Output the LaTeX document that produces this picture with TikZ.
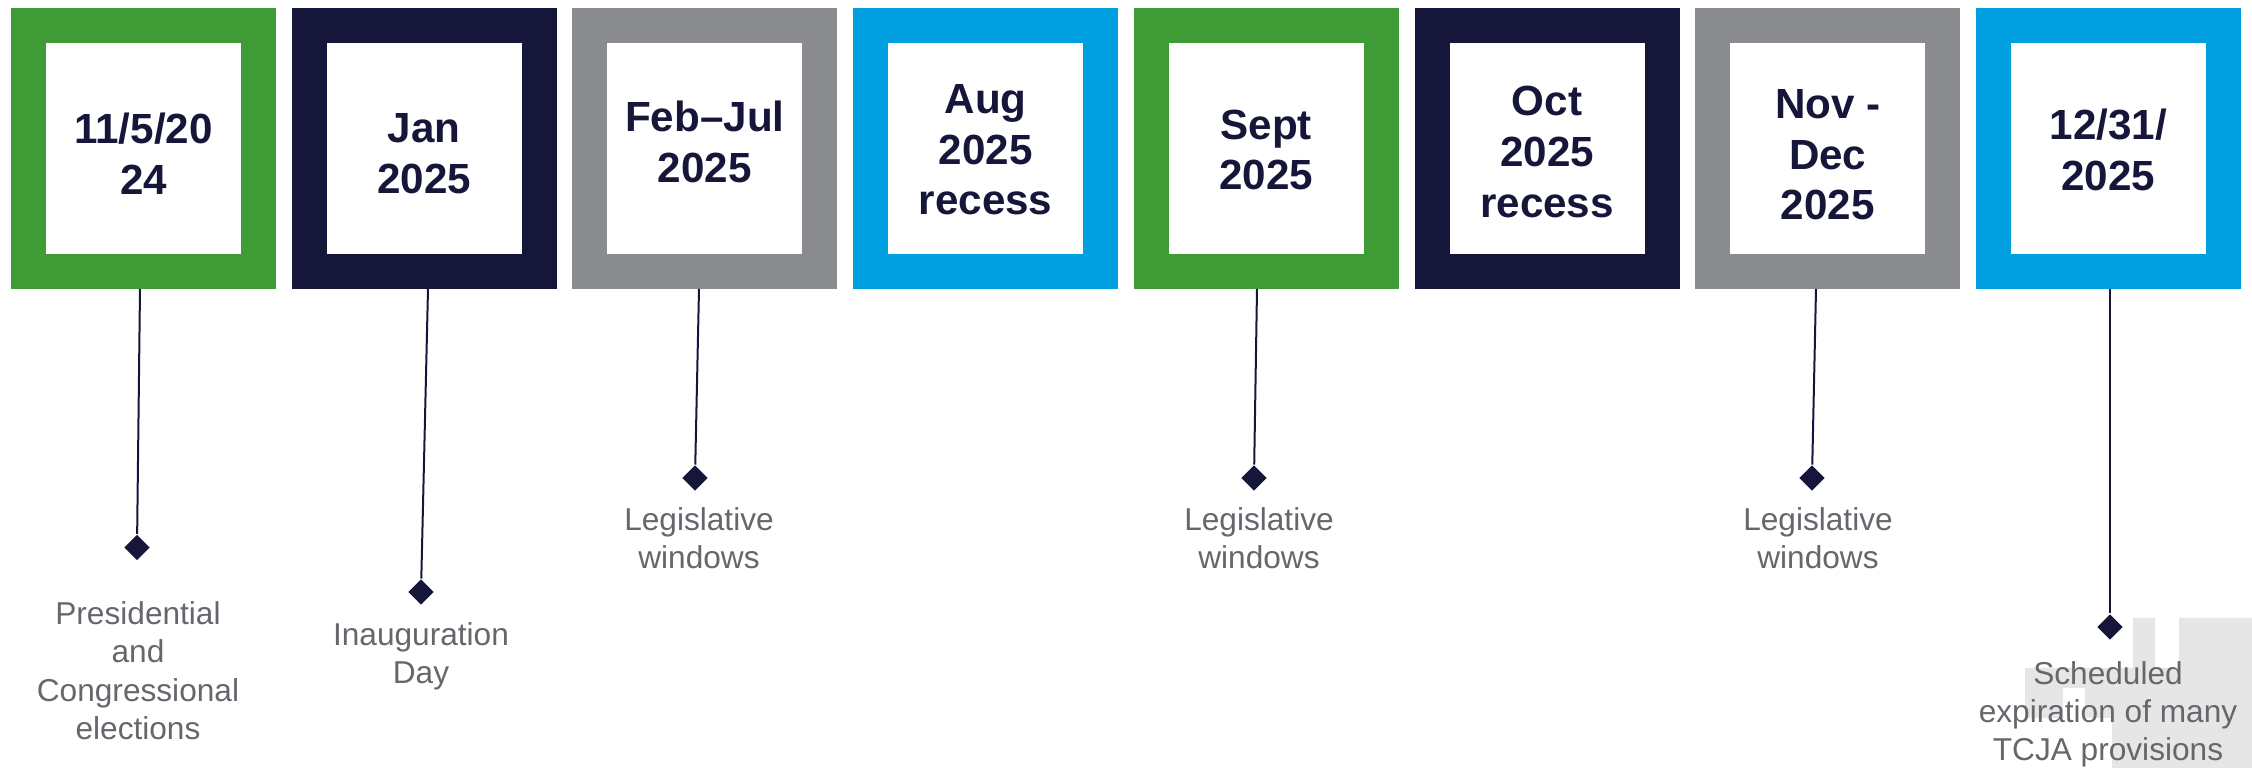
\documentclass[tikz,border=0pt]{standalone}
\usepackage{fontspec}
\setmainfont{Liberation Sans}
\usetikzlibrary{shapes.geometric}
\definecolor{tlgreen}{HTML}{3F9B35}
\definecolor{tlnavy}{HTML}{16163A}
\definecolor{tlgray}{HTML}{898B8E}
\definecolor{tlblue}{HTML}{009FDF}
\definecolor{notegray}{HTML}{64676B}
\definecolor{bggray}{HTML}{E6E6E6}
\begin{document}
\begin{tikzpicture}[x=0.1mm,y=-0.1mm,
  datebox/.style={draw=#1, line width=3.5mm, fill=white, minimum width=23mm,
    minimum height=24.55mm, inner sep=0pt},
  datetext/.style={text=tlnavy, font=\fontsize{12}{14.4}\selectfont\bfseries,
    align=center, inner sep=0pt},
  marker/.style={diamond, fill=tlnavy, inner sep=0pt, minimum size=2.6mm},
  stem/.style={draw=tlnavy, line width=0.2mm},
  % notes are placed by the baseline of their last line
  note/.style={text=notegray, font=\fontsize{9}{10.95}\selectfont, align=center,
    anchor=base, inner sep=0pt}]
\useasboundingbox (0,0) rectangle (2252,768);

% light stepped backdrop in the lower right corner
\fill[bggray] (2025,668) -- (2133,668) -- (2133,618) -- (2155,618) -- (2155,668)
  -- (2179,668) -- (2179,618) -- (2252,618) -- (2252,768) -- (2112,768)
  -- (2112,718) -- (2085,718) -- (2085,688) -- (2063,688) -- (2063,718)
  -- (2025,718) -- cycle;

% date boxes
\node[datebox=tlgreen] (b1) at (143.5,148.75) {};
\node[datebox=tlnavy]  (b2) at (424.2,148.75) {};
\node[datebox=tlgray]  (b3) at (704.9,148.75) {};
\node[datebox=tlblue]  (b4) at (985.6,148.75) {};
\node[datebox=tlgreen] (b5) at (1266.3,148.75) {};
\node[datebox=tlnavy]  (b6) at (1547,148.75) {};
\node[datebox=tlgray]  (b7) at (1827.7,148.75) {};
\node[datebox=tlblue]  (b8) at (2108.4,148.75) {};

\node[datetext] (t1) at (143.5,154) {11/5/20\\24};
\node[datetext] (t2) at (424.2,154) {Jan\\2025};
\node[datetext] (t3) at (704.9,142) {Feb–Jul\\2025};
\node[datetext] (t4) at (985.6,150) {Aug\\2025\\recess};
\node[datetext] (t5) at (1266.3,150) {Sept\\2025};
\node[datetext] (t6) at (1547,152) {Oct\\2025\\recess};
\node[datetext] (t7) at (1827.7,155) {Nov -\\Dec\\2025};
\node[datetext] (t8) at (2108.4,150) {12/31/\\2025};

% stems and markers
\coordinate (s1) at (140,289);
\coordinate (s2) at (428,289);
\coordinate (s3) at (699,289);
\coordinate (s5) at (1257,289);
\coordinate (s7) at (1816,289);
\coordinate (s8) at (2110,289);
\node[marker] (d1) at (137,547.5) {};
\node[marker] (d2) at (421,592) {};
\node[marker] (d3) at (695,478) {};
\node[marker] (d5) at (1254,478) {};
\node[marker] (d7) at (1812,478) {};
\node[marker] (d8) at (2110,627) {};
\draw[stem] (s1) -- (d1);
\draw[stem] (s2) -- (d2);
\draw[stem] (s3) -- (d3);
\draw[stem] (s5) -- (d5);
\draw[stem] (s7) -- (d7);
\draw[stem] (s8) -- (d8);

% notes
\node[note] (n1) at (138,739.5) {Presidential\\and\\Congressional\\elections};
\node[note] (n2) at (421,683.5) {Inauguration\\Day};
\node[note] (n3) at (699,568.5) {Legislative\\windows};
\node[note] (n5) at (1259,568.5) {Legislative\\windows};
\node[note] (n7) at (1818,568.5) {Legislative\\windows};
\node[note] (n8) at (2108,761) {Scheduled\\expiration of many\\TCJA provisions};
\end{tikzpicture}
\end{document}
